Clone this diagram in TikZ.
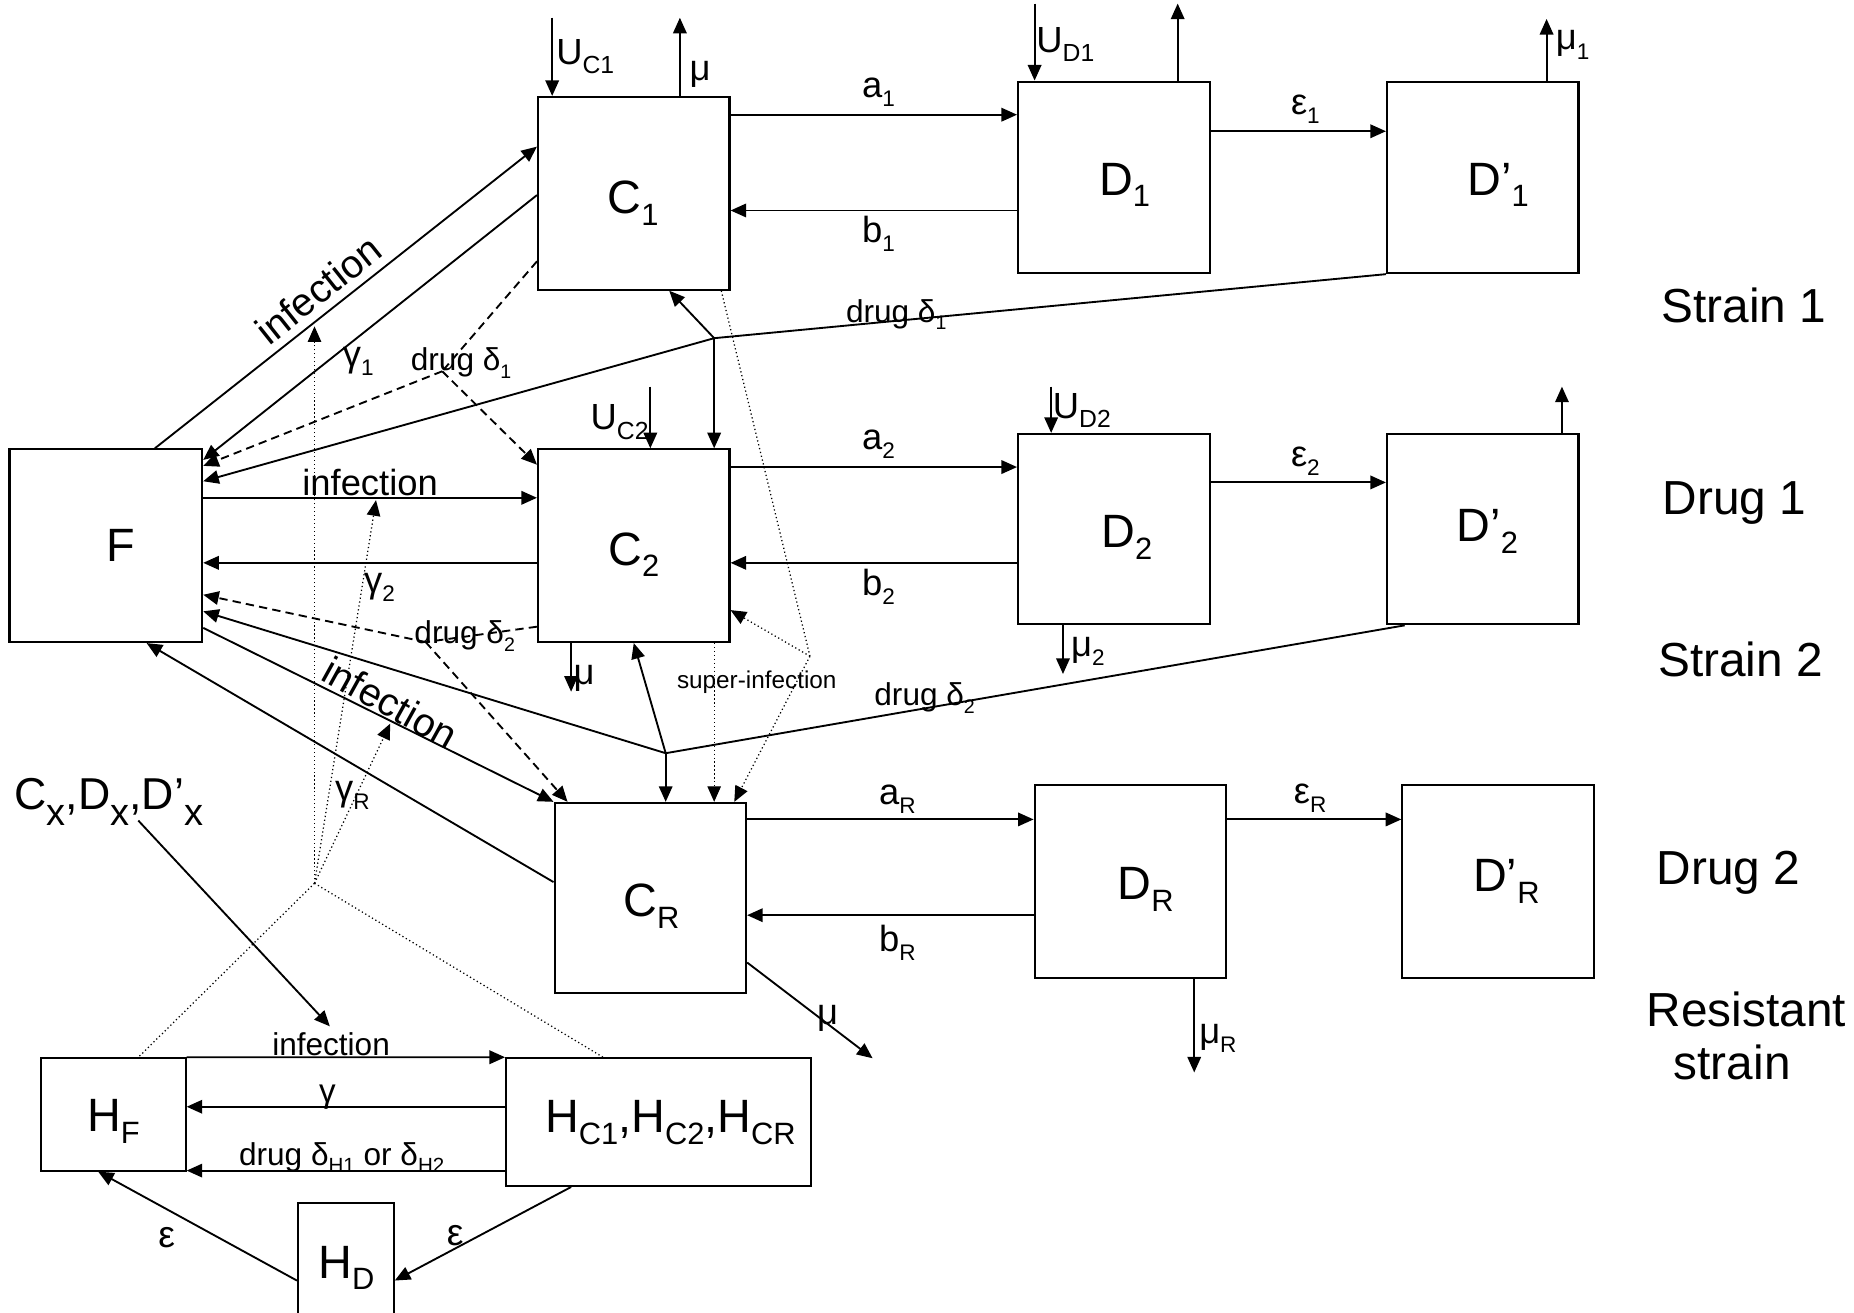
\documentclass[tikz,border=0pt]{standalone}
\usepackage{fontspec}
\setmainfont{Liberation Sans}
\usetikzlibrary{arrows.meta}
\newcommand\mysub[2][0.62]{\raisebox{-0.25em}{\scalebox{#1}{#2}}}
\tikzset{
 cbox/.style={draw, line width=1pt, inner sep=0pt, minimum width=3.24cm, minimum height=3.26cm},
 arrw/.style={-{Triangle[length=7.5pt,width=6.5pt]}, line width=0.9pt},
 solidl/.style={line width=0.9pt},
 dashl/.style={line width=0.9pt, dash pattern=on 4pt off 2.5pt},
 dotl/.style={line width=0.6pt, dash pattern=on 0.6pt off 1.3pt},
 bl/.style={inner sep=0pt, font=\fontsize{22.5}{27}\selectfont},
 rl/.style={inner sep=0pt, font=\fontsize{23}{27}\selectfont},
 el/.style={inner sep=0pt, font=\fontsize{17.5}{21}\selectfont},
 il/.style={inner sep=0pt, font=\fontsize{19}{23}\selectfont},
 sl/.style={inner sep=0pt, font=\fontsize{14.5}{17}\selectfont},
 hl/.style={inner sep=0pt, font=\fontsize{15.2}{18}\selectfont},
 tl/.style={inner sep=0pt, font=\fontsize{11.7}{14}\selectfont},
}
\begin{document}
\begin{tikzpicture}[x=0.02cm,y=-0.02cm]
\useasboundingbox (0,0) rectangle (1568,1110);
\clip (0,0) rectangle (1568,1110);
% boxes
\node[cbox, minimum width=3.26cm] (F) at (89.5,461.5) {};
\node[cbox] (C1) at (536,163.5) {};
\node[cbox] (C2) at (536,461.5) {};
\node[cbox, minimum height=3.22cm] (CR) at (550,759.5) {};
\node[cbox, minimum height=3.24cm] (D1) at (942,150) {};
\node[cbox, minimum height=3.24cm] (Dp1) at (1254,150) {};
\node[cbox, minimum height=3.22cm] (D2) at (942,447.5) {};
\node[cbox, minimum height=3.22cm] (Dp2) at (1254,447.5) {};
\node[cbox] (DR) at (956,745.5) {};
\node[cbox] (DpR) at (1267,745.5) {};
\node[cbox, minimum width=2.44cm, minimum height=1.90cm] (HF) at (96,942.5) {};
\node[cbox, minimum width=5.16cm, minimum height=2.16cm] (HC) at (557,949) {};
\node[cbox, minimum width=1.62cm, minimum height=2.52cm] (HD) at (292.5,1080) {};
% box labels
\node[bl, anchor=base] (tF) at (102,475) {F};
\node[bl, anchor=base] (tC1) at (535.5,180.5) {C\mysub[0.66]{1}};
\node[bl, anchor=base] (tC2) at (536,478) {C\mysub[0.66]{2}};
\node[bl, anchor=base] (tCR) at (551,775) {C\mysub[0.66]{R}};
\node[bl, anchor=base] (tD1) at (951,165) {D\mysub[0.66]{1}};
\node[bl, anchor=base] (tDp1) at (1267,165) {D’\mysub[0.66]{1}};
\node[bl, anchor=base] (tD2) at (953,463) {D\mysub[0.66]{2}};
\node[bl, anchor=base] (tDp2) at (1258,458) {D’\mysub[0.66]{2}};
\node[bl, anchor=base] (tDR) at (969,761) {D\mysub[0.66]{R}};
\node[bl, anchor=base] (tDpR) at (1274,754) {D’\mysub[0.66]{R}};
\node[bl, anchor=base] (tHF) at (96,957) {H\mysub[0.66]{F}};
\node[bl, anchor=base] (tHC) at (567,958) {H\mysub[0.66]{C1},H\mysub[0.66]{C2},H\mysub[0.66]{CR}};
\node[bl, anchor=base] (tHD) at (293,1081) {H\mysub[0.66]{D}};
% right labels
\node[rl] (s1) at (1475,258) {Strain 1};
\node[rl, anchor=base] (dr1) at (1467,435) {Drug 1};
\node[rl] (s2) at (1472,558) {Strain 2};
\node[rl, anchor=base] (dr2) at (1462,748) {Drug 2};
\node[rl, anchor=base] (rs1) at (1477,868) {Resistant};
\node[rl, anchor=base] (rs2) at (1465,913) {strain};
% C1 inflow/outflow
\coordinate (uc1) at (467,15);
\draw[arrw] (uc1) -- (uc1 |- C1.north);
\node[el] (luc1) at (495,48) {U\mysub[0.68]{C1}};
\coordinate (muc1) at (575,15);
\draw[arrw] (muc1 |- C1.north) -- (muc1);
\node[el] (lmuc1) at (592,63) {μ};
% strain 1 row
\draw[arrw] (C1.east |- 0,97) -- (D1.west |- 0,97);
\node[el] (la1) at (743,78) {a\mysub{1}};
\draw[arrw] (D1.west |- 0,178) -- (C1.east |- 0,178);
\node[el] (lb1) at (743,198) {b\mysub{1}};
\coordinate (ud1) at (875,3);
\draw[arrw] (ud1) -- (ud1 |- D1.north);
\node[el] (lud1) at (901,38) {U\mysub[0.68]{D1}};
\coordinate (mud1) at (996,3);
\draw[arrw] (mud1 |- D1.north) -- (mud1);
\draw[arrw] (D1.east |- 0,111) -- (Dp1.west |- 0,111);
\node[el] (le1) at (1104,92) {ε\mysub{1}};
\coordinate (mu1) at (1308,16);
\draw[arrw] (mu1 |- Dp1.north) -- (mu1);
\node[el] (lmu1) at (1330,38) {μ\mysub{1}};
% drug delta1 solid
\coordinate (J1) at (604,286);
\draw[solidl] (Dp1.south west) -- (J1);
\draw[arrw] (J1) -- (F.east |- 0,407);
\draw[arrw] (J1) -- (C1.south -| 566,0);
\draw[arrw] (J1) -- (C2.north -| 604,0);
\node[hl] (ldd1) at (758,266) {drug δ\mysub{1}};
% infection F-C1, gamma1
\draw[arrw] (F.north -| 131,0) -- (C1.west |- 0,124);
\node[il, rotate=38.5] (linf1) at (269,245) {infection};
\draw[arrw] (C1.west |- 0,165) -- (F.east |- 0,389);
\node[el] (lg1) at (303,306) {γ\mysub{1}};
% dashed drug delta1
\coordinate (K1) at (374,314);
\draw[dashl] (C1.west |- 0,221) -- (K1);
\draw[arrw,dashl] (K1) -- (F.east |- 0,394);
\draw[arrw,dashl] (K1) -- (C2.west |- 0,393);
\node[hl] (lk1) at (390,307) {drug δ\mysub{1}};
% infection F-C2, gamma2
\draw[arrw] (F.east |- 0,421) -- (C2.west |- 0,421);
\node[el, anchor=base] (linf2) at (313,419) {infection};
\draw[arrw] (C2.west |- 0,476) -- (F.east |- 0,476);
\node[el] (lg2) at (321,497) {γ\mysub{2}};
% dashed drug delta2
\coordinate (K2) at (360,543);
\draw[dashl] (C2.west |- 0,530) -- (K2);
\draw[arrw,dashl] (K2) -- (F.east |- 0,503);
\draw[arrw,dashl] (K2) -- (CR.north -| 480,0);
\node[hl] (lk2) at (393,538) {drug δ\mysub{2}};
% solid drug delta2
\coordinate (J2) at (563,637);
\draw[solidl] (Dp2.south -| 1188,0) -- (J2);
\draw[arrw] (J2) -- (F.east |- 0,517);
\draw[arrw] (J2) -- (C2.south -| 536,0);
\draw[arrw] (J2) -- (CR.north -| 563,0);
\node[hl] (ldd2) at (782,590) {drug δ\mysub{2}};
% infection F-CR, gammaR
\draw[arrw] (F.east |- 0,531) -- (CR.north west);
\node[il, rotate=-29] (linf3) at (330,594) {infection};
\draw[arrw] (CR.west |- 0,746) -- (F.south -| 124,0);
\node[el] (lgR) at (298,673) {γ\mysub{R}};
% super-infection
\coordinate (P) at (685,555);
\draw[dotl] (C1.south -| 610,0) -- (P);
\draw[arrw,dotl] (P) -- (C2.east |- 0,516);
\draw[arrw,dotl] (P) -- (CR.north -| 621,0);
\draw[arrw,dotl] (C2.south -| 604,0) -- (CR.north -| 604,0);
\node[tl] (lsup) at (640,577) {super-infection};
% C2 in/out
\coordinate (uc2) at (550,327);
\draw[arrw] (uc2) -- (uc2 |- C2.north);
\node[el] (luc2) at (524,357) {U\mysub[0.68]{C2}};
\coordinate (muc2) at (483,585);
\draw[arrw] (C2.south -| muc2) -- (muc2);
\node[el] (lmuc2) at (494,574) {μ};
% strain 2 row
\draw[arrw] (C2.east |- 0,395) -- (D2.west |- 0,395);
\node[el] (la2) at (743,376) {a\mysub{2}};
\draw[arrw] (D2.west |- 0,476) -- (C2.east |- 0,476);
\node[el] (lb2) at (743,496) {b\mysub{2}};
\coordinate (ud2) at (889,327);
\draw[arrw] (ud2) -- (ud2 |- D2.north);
\node[el] (lud2) at (915,347) {U\mysub[0.68]{D2}};
\draw[arrw] (D2.east |- 0,408) -- (Dp2.west |- 0,408);
\node[el] (le2) at (1104,390) {ε\mysub{2}};
\coordinate (mud2) at (1321,327);
\draw[arrw] (mud2 |- Dp2.north) -- (mud2);
\coordinate (mu2) at (899,570);
\draw[arrw] (D2.south -| mu2) -- (mu2);
\node[el] (lmu2) at (920,551) {μ\mysub{2}};
% resistant row
\draw[arrw] (CR.east |- 0,693) -- (DR.west |- 0,693);
\node[el] (laR) at (759,676) {a\mysub{R}};
\draw[arrw] (DR.west |- 0,774) -- (CR.east |- 0,774);
\node[el] (lbR) at (759,797) {b\mysub{R}};
\draw[arrw] (DR.east |- 0,693) -- (DpR.west |- 0,693);
\node[el] (leR) at (1108,675) {ε\mysub{R}};
\coordinate (muR) at (1010,907);
\draw[arrw] (DR.south -| muR) -- (muR);
\node[el] (lmuR) at (1030,878) {μ\mysub{R}};
\coordinate (mucr) at (738,895);
\draw[arrw] (CR.east |- 0,814) -- (mucr);
\node[el] (lmucr) at (700,861) {μ};
% humans
\node[bl, font=\fontsize{21.5}{26}\selectfont] (Cx) at (92,678) {C\raisebox{-0.1em}{\mysub[0.85]{x}},D\raisebox{-0.1em}{\mysub[0.85]{x}},D’\raisebox{-0.1em}{\mysub[0.85]{x}}};
\coordinate (cxs) at (117,694);
\coordinate (cxe) at (279,868);
\draw[arrw] (cxs) -- (cxe);
\draw[arrw] (HF.north east) -- (HC.north west);
\node[hl, anchor=base] (lhinf) at (280,893) {infection};
\draw[arrw] (HC.west |- 0,936) -- (HF.east |- 0,936);
\node[el, font=\fontsize{16}{19}\selectfont] (lhg) at (277,928) {γ};
\draw[arrw] (HC.west |- 0,990) -- (HF.east |- 0,990);
\node[hl] (lhd) at (289,979) {drug δ\mysub[0.65]{H1} or δ\mysub[0.65]{H2}};
\draw[arrw] (HD.west |- 0,1083) -- (HF.south -| 83,0);
\node[el, font=\fontsize{18}{21}\selectfont] (lhe1) at (141,1047) {ε};
\draw[arrw] (HC.south -| 483,0) -- (HD.east |- 0,1083);
\node[el, font=\fontsize{18}{21}\selectfont] (lhe2) at (385,1045) {ε};
% dotted human-driven infection
\coordinate (Q) at (266,747);
\coordinate (q1) at (266,276);
\coordinate (q2) at (318,423);
\coordinate (q3) at (330,612);
\draw[dotl] (Q) -- (HF.north -| 117,0);
\draw[dotl] (Q) -- (HC.north -| 510,0);
\draw[arrw,dotl] (Q) -- (q1);
\draw[arrw,dotl] (Q) -- (q2);
\draw[arrw,dotl] (Q) -- (q3);
\end{tikzpicture}
\end{document}
